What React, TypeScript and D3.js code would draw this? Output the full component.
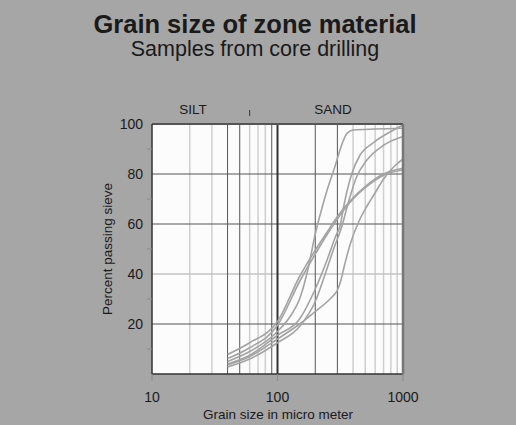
import React from "react";
import * as d3 from "d3";

// Grain size distribution curves: [grain size in µm, percent passing]
const sampleA: [number, number][] = [[40, 5], [60, 9], [100, 17], [130, 24], [150, 30], [175, 42], [200, 56], [225, 66], [250, 74], [287, 83], [324, 91.5], [355, 96], [400, 97.6], [600, 98], [1000, 98.3]];
const sampleB: [number, number][] = [[40, 4], [60, 7.5], [100, 15.5], [150, 22], [200, 34], [250, 46], [290, 55], [318, 60], [334, 66], [390, 80], [454, 87.5], [580, 92.5], [800, 97], [1000, 99.6]];
const sampleC: [number, number][] = [[40, 2.8], [60, 6], [100, 12.5], [150, 19], [200, 29], [240, 40], [280, 50], [330, 60], [355, 66], [428, 79], [514, 85.5], [700, 91.5], [1000, 95]];
const sampleD: [number, number][] = [[40, 7.8], [60, 12.5], [100, 21], [150, 39], [200, 49.5], [250, 57], [300, 63], [400, 70.5], [500, 75], [700, 80], [1000, 82.3]];
const sampleE: [number, number][] = [[40, 6.2], [60, 10.5], [100, 19.5], [150, 37], [200, 48], [250, 56], [300, 62], [400, 70], [500, 74.5], [700, 79.5], [1000, 81.6]];
const sampleF: [number, number][] = [[40, 3.6], [60, 7], [100, 14], [150, 20], [200, 25], [250, 29], [280, 31.5], [300, 33.5], [320, 37.5], [340, 43], [380, 52], [454, 62], [514, 67], [600, 72.5], [700, 78], [850, 83], [1000, 86]];
const samples = [sampleA, sampleB, sampleC, sampleD, sampleE, sampleF];

// Grid layout
const xMajorTicks = [10, 100, 1000];
const xDarkGrid = [40, 50, 90, 200, 300];
const xLightGrid = [20, 30, 60, 70, 80, 400, 500, 600, 700, 800, 900];
const yLabelTicks = [20, 40, 60, 80, 100];
const yDarkGrid = [20, 60, 80];
const yLightGrid = [40];
const yMinorTicks = [10, 30, 50, 70, 90];
const siltSandBoundary = 60;

const W = 516;
const H = 425;
const plot = { left: 152, right: 403, top: 124, bottom: 374 };
const FONT = "'Liberation Sans', Arial, Helvetica, sans-serif";

export default function App() {
  const x = d3.scaleLog().domain([10, 1000]).range([plot.left, plot.right]);
  const y = d3.scaleLinear().domain([0, 100]).range([plot.bottom, plot.top]);
  const line = d3
    .line<[number, number]>()
    .x((d) => x(d[0]))
    .y((d) => y(d[1]))
    .curve(d3.curveMonotoneX);

  return (
    <svg
      width={W}
      height={H}
      style={{ position: "fixed", left: 0, top: 0, display: "block" }}
      fontFamily={FONT}
    >
      <rect x={0} y={0} width={W} height={H} fill="#a6a6a6" />

      <text x={255} y={33} textAnchor="middle" fontSize={25.5} fontWeight="bold" fill="#1a1a1a">
        Grain size of zone material
      </text>
      <text x={255} y={56} textAnchor="middle" fontSize={21.5} fill="#1a1a1a">
        Samples from core drilling
      </text>

      {/* soil class labels */}
      <text x={193} y={114} textAnchor="middle" fontSize={13.5} fill="#1a1a1a">SILT</text>
      <text x={333} y={114} textAnchor="middle" fontSize={13.5} fill="#1a1a1a">SAND</text>
      <line x1={x(siltSandBoundary)} x2={x(siltSandBoundary)} y1={110} y2={116} stroke="#333" strokeWidth={1} />

      <rect
        x={plot.left}
        y={plot.top}
        width={plot.right - plot.left}
        height={plot.bottom - plot.top}
        fill="#fcfcfc"
      />

      {xLightGrid.map((v) => (
        <line key={"xl" + v} x1={x(v)} x2={x(v)} y1={plot.top} y2={plot.bottom} stroke="#cfcfcf" strokeWidth={1.5} />
      ))}
      {yLightGrid.map((v) => (
        <line key={"yl" + v} x1={plot.left} x2={plot.right} y1={y(v)} y2={y(v)} stroke="#c4c4c4" strokeWidth={1.5} />
      ))}
      {xDarkGrid.map((v) => (
        <line key={"xd" + v} x1={x(v)} x2={x(v)} y1={plot.top} y2={plot.bottom} stroke="#555" strokeWidth={1} />
      ))}
      {yDarkGrid.map((v) => (
        <line key={"yd" + v} x1={plot.left} x2={plot.right} y1={y(v)} y2={y(v)} stroke="#555" strokeWidth={1} />
      ))}
      <line x1={x(100)} x2={x(100)} y1={plot.top} y2={plot.bottom} stroke="#333" strokeWidth={2} />

      {samples.map((s, i) => (
        <path key={"s" + i} d={line(s) ?? ""} fill="none" stroke="#a3a3a3" strokeWidth={1.6} />
      ))}

      {/* frame */}
      <line x1={plot.left} x2={plot.right} y1={plot.top} y2={plot.top} stroke="#555" strokeWidth={2} />
      <line x1={plot.left} x2={plot.left} y1={plot.top} y2={plot.bottom} stroke="#333" strokeWidth={1.5} />
      <line x1={plot.left} x2={plot.right} y1={plot.bottom} y2={plot.bottom} stroke="#333" strokeWidth={1.5} />
      <line x1={plot.right} x2={plot.right} y1={plot.top} y2={plot.bottom} stroke="#777" strokeWidth={2.5} />

      {/* y axis */}
      {yMinorTicks.map((v) => (
        <line key={"ym" + v} x1={plot.left - 5} x2={plot.left} y1={y(v)} y2={y(v)} stroke="#8a8a8a" strokeWidth={1} />
      ))}
      {yLabelTicks.map((v) => (
        <text key={"yt" + v} x={143} y={y(v) + 5} textAnchor="end" fontSize={14} fill="#1a1a1a">
          {v}
        </text>
      ))}
      <text
        transform={`translate(112,${(plot.top + plot.bottom) / 2}) rotate(-90)`}
        textAnchor="middle"
        fontSize={13.5}
        fill="#1a1a1a"
      >
        Percent passing sieve
      </text>

      {/* x axis */}
      {xMajorTicks.map((v) => (
        <g key={"xt" + v}>
          <line x1={x(v)} x2={x(v)} y1={plot.bottom} y2={plot.bottom + 7} stroke="#8a8a8a" strokeWidth={1} />
          <text x={x(v)} y={402} textAnchor="middle" fontSize={14} fill="#1a1a1a">
            {v}
          </text>
        </g>
      ))}
      <text x={278} y={419} textAnchor="middle" fontSize={13.5} fill="#1a1a1a">
        Grain size in micro meter
      </text>
    </svg>
  );
}
